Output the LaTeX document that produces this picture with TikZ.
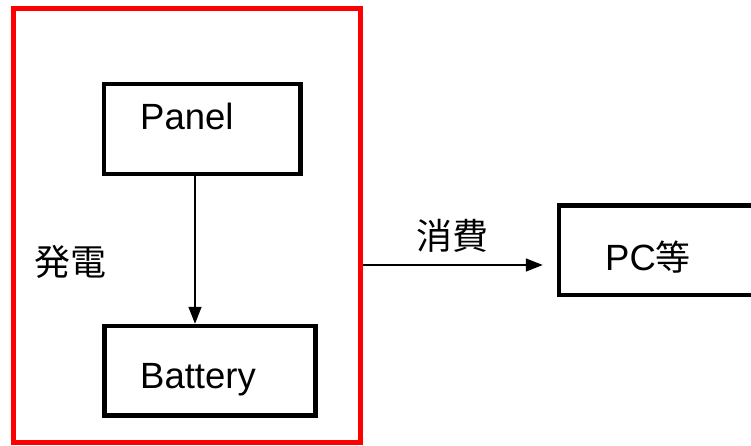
\documentclass[tikz,border=0pt]{standalone}
\usepackage{fontspec}
\setmainfont{Liberation Sans}
\newfontfamily\cjk{Noto Sans CJK JP}
\usetikzlibrary{arrows.meta}
\begin{document}
\begin{tikzpicture}[x=1pt,y=-1pt,
  box/.style={draw=black,line width=4.5pt,rectangle,inner sep=0pt},
  redbox/.style={draw=red,line width=4.5pt,rectangle,inner sep=0pt},
  lbl/.style={inner sep=0pt,font=\fontsize{36.5}{42}\selectfont},
  cjklbl/.style={inner sep=0pt,font=\cjk\fontsize{36}{42}\selectfont},
  conn/.style={line width=1.5pt,-{Triangle[length=17pt,width=13pt]}}]
\useasboundingbox (0,0) rectangle (751,446);
\clip (0,0) rectangle (751,446);
\node[redbox,minimum width=347pt,minimum height=434pt] (gen) at (187,225.5) {};
\node[box,minimum width=196.5pt,minimum height=90pt] (panel) at (202.25,129) {};
\node[box,minimum width=211pt,minimum height=89.5pt] (battery) at (210,370.75) {};
\node[box,minimum width=201pt,minimum height=89.5pt] (pc) at (659.5,250.25) {};
\node[lbl,anchor=base west] (tpanel) at (140,130) {Panel};
\node[lbl,anchor=base west] (tbattery) at (140,388) {Battery};
\node[lbl,anchor=base west] (tpc) at (605,270) {PC{\cjk\fontsize{35}{42}\selectfont 等}};
\node[cjklbl] (tgen) at (70,262) {発電};
\node[cjklbl] (tuse) at (452,236) {消費};
\coordinate (ax) at (195,0);
\coordinate (ay) at (0,265);
\draw[conn] (ax |- panel.south) -- (ax |- battery.north);
\draw[conn,shorten >=14pt] (gen.east |- ay) -- (pc.west |- ay);
\end{tikzpicture}
\end{document}
